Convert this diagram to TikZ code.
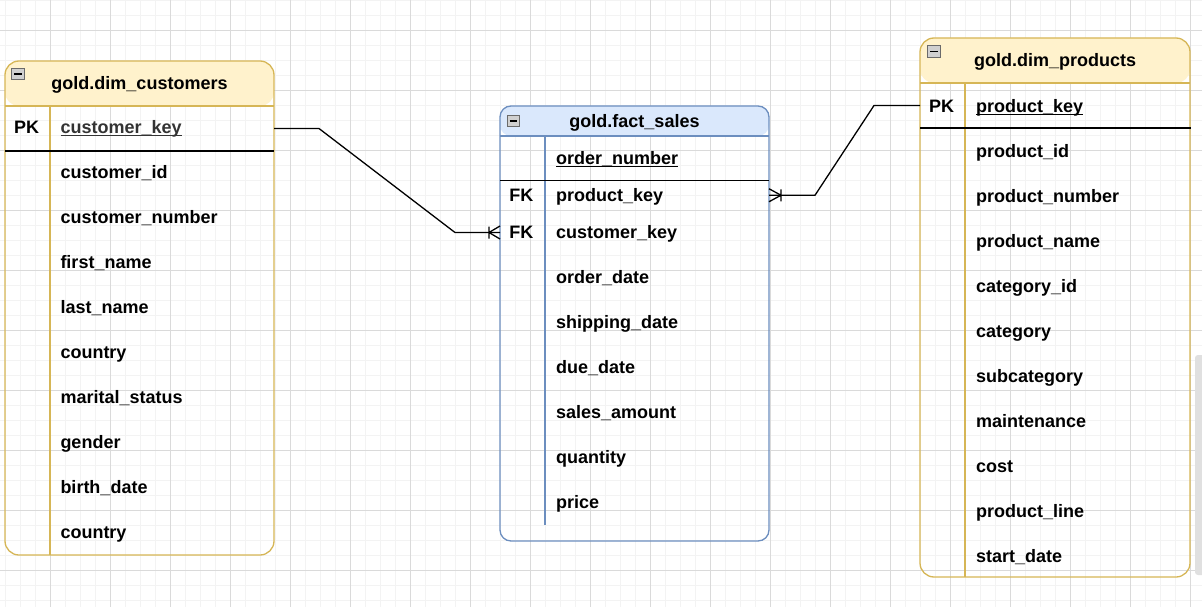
\documentclass[tikz,border=0pt]{standalone}
\usepackage{fontspec}
\setmainfont{Liberation Sans}
\usetikzlibrary{calc}
\definecolor{ybg}{HTML}{FFF2CC}
\definecolor{ystroke}{HTML}{D6B656}
\definecolor{bbg}{HTML}{DAE8FC}
\definecolor{bstroke}{HTML}{6C8EBF}
\definecolor{gmajor}{HTML}{DADADA}
\definecolor{gminor}{HTML}{F3F3F3}
\definecolor{keygray}{HTML}{333333}
\definecolor{iconfill}{HTML}{D0D0D0}
\definecolor{iconline}{HTML}{6A6A6A}
\definecolor{scrollc}{HTML}{E0E0E0}
\begin{document}
\begin{tikzpicture}[x=1pt,y=-1pt,
  txt/.style={font=\fontsize{18}{21}\selectfont\bfseries, inner sep=0pt, outer sep=0pt, anchor=base west},
  ttl/.style={txt, anchor=base},
  keytxt/.style={txt, anchor=base},
  rowbox/.style 2 args={inner sep=0pt, outer sep=0pt, minimum width=#1, minimum height=#2},
  tbl/.style n args={4}{draw=#1, line width=1.3pt, rounded corners=#3, inner sep=0pt, outer sep=0pt,
     path picture={\fill[#2] (path picture bounding box.north west) rectangle ([yshift=-#4]path picture bounding box.north east);}},
  sep/.style={line width=1.3pt},
  keysep/.style={black, line width=1.3pt},
  conn/.style={black, line width=1.3pt},
  uline/.style={line width=1pt},
  minusbox/.style={draw=iconline, fill=iconfill, line width=0.8pt, minimum width=12.5pt, minimum height=11.5pt, inner sep=0pt,
     path picture={\draw[black, line width=1.2pt] ([xshift=2.5pt]path picture bounding box.west) -- ([xshift=-2.5pt]path picture bounding box.east);}}
]
\useasboundingbox (0,0) rectangle (1202,607);
\fill[white] (0,0) rectangle (1202,607);
% grid
\foreach \x in {5,20,...,1200} \draw[gminor, line width=0.8pt] (\x,0) -- (\x,607);
\foreach \y in {0,15,...,607} \draw[gminor, line width=0.8pt] (0,\y) -- (1202,\y);
\foreach \x in {50,110,...,1200} \draw[gmajor, line width=0.8pt] (\x,0) -- (\x,607);
\foreach \y in {30,90,...,607} \draw[gmajor, line width=0.8pt] (0,\y) -- (1202,\y);
% scrollbar
\fill[scrollc, rounded corners=3pt] (1195,355) rectangle (1206,575);

% ---------- gold.dim_customers ----------
\node[tbl={ystroke}{ybg}{14pt}{45pt}, minimum width=269pt, minimum height=494pt] (cust) at (139.5,308) {};
\draw[sep, ystroke] (5,106) -- (274,106);
\draw[sep, ystroke] (50,106) -- (50,555);
\draw[keysep] (5,151) -- (274,151);
\node[minusbox] (custicon) at (18,74) {};
\node[ttl] (custtitle) at (139.5,89.3) {gold.dim\_customers};
\node[rowbox={269pt}{45pt}] (cpk) at (139.5,128.5) {};
\node[keytxt] (cpkl) at (26.7,133.9) {PK};
\node[txt, text=keygray] (ckey) at (60.5,133.9) {customer\_key};
\draw[uline, keygray] ([yshift=-1.8pt]ckey.base west) -- ([yshift=-1.8pt]ckey.base east);
\foreach \t [count=\i] in {customer\_id,customer\_number,first\_name,last\_name,country,marital\_status,gender,birth\_date,country}
  \node[txt] (cf\i) at (60.5,{133.9+45*\i}) {\t};

% ---------- gold.fact_sales ----------
\node[tbl={bstroke}{bbg}{11pt}{30pt}, minimum width=269pt, minimum height=435pt] (fact) at (634.5,323.5) {};
\draw[sep, bstroke] (500,136) -- (769,136);
\draw[sep, bstroke] (545,136) -- (545,525);
\draw[keysep] (500,180.5) -- (769,180.5);
\node[minusbox] (facticon) at (513.3,121) {};
\node[ttl] (facttitle) at (634.5,127.7) {gold.fact\_sales};
\node[txt] (fon) at (556,164.5) {order\_number};
\draw[uline] ([yshift=-1.8pt]fon.base west) -- ([yshift=-1.8pt]fon.base east);
\node[rowbox={269pt}{29.5pt}] (fpk) at (634.5,195.25) {};
\node[rowbox={269pt}{45pt}] (fck) at (634.5,232.5) {};
\node[keytxt] (fk1) at (521.3,201.9) {FK};
\node[txt] (fpkt) at (556,201.9) {product\_key};
\node[keytxt] (fk2) at (521.3,238.2) {FK};
\node[txt] (fckt) at (556,238.2) {customer\_key};
\foreach \t [count=\i] in {order\_date,shipping\_date,due\_date,sales\_amount,quantity,price}
  \node[txt] (ff\i) at (556,{238.2+45*\i}) {\t};

% ---------- gold.dim_products ----------
\node[tbl={ystroke}{ybg}{14pt}{45pt}, minimum width=270pt, minimum height=539pt] (prod) at (1055,307.5) {};
\draw[sep, ystroke] (920,83) -- (1190,83);
\draw[sep, ystroke] (965,83) -- (965,577);
\draw[keysep] (920,128) -- (1191,128);
\node[minusbox] (prodicon) at (934,51.5) {};
\node[ttl] (prodtitle) at (1055,67) {gold.dim\_products};
\node[rowbox={270pt}{45pt}] (ppk) at (1055,105.5) {};
\node[keytxt] (ppkl) at (941.7,112.5) {PK};
\node[txt] (pkey) at (976,112.5) {product\_key};
\draw[uline] ([yshift=-1.8pt]pkey.base west) -- ([yshift=-1.8pt]pkey.base east);
\foreach \t [count=\i] in {product\_id,product\_number,product\_name,category\_id,category,subcategory,maintenance,cost,product\_line,start\_date}
  \node[txt] (pf\i) at (976,{112.5+45*\i}) {\t};

% ---------- connectors ----------
\draw[conn] (cpk.east) -- ++(45,0) -- ([xshift=-45pt]fck.west) -- (fck.west);
\draw[conn] ([xshift=-11pt]fck.west) -- ([yshift=6.5pt]fck.west)
            ([xshift=-11pt]fck.west) -- ([yshift=-6.5pt]fck.west)
            ([xshift=-11pt,yshift=6pt]fck.west) -- ([xshift=-11pt,yshift=-6pt]fck.west);

\draw[conn] (fpk.east) -- ++(46,0) -- ([xshift=-46pt]ppk.west) -- (ppk.west);
\draw[conn] ([xshift=12pt]fpk.east) -- ([yshift=6.5pt]fpk.east)
            ([xshift=12pt]fpk.east) -- ([yshift=-6.5pt]fpk.east)
            ([xshift=12pt,yshift=6pt]fpk.east) -- ([xshift=12pt,yshift=-6pt]fpk.east);
\end{tikzpicture}
\end{document}
